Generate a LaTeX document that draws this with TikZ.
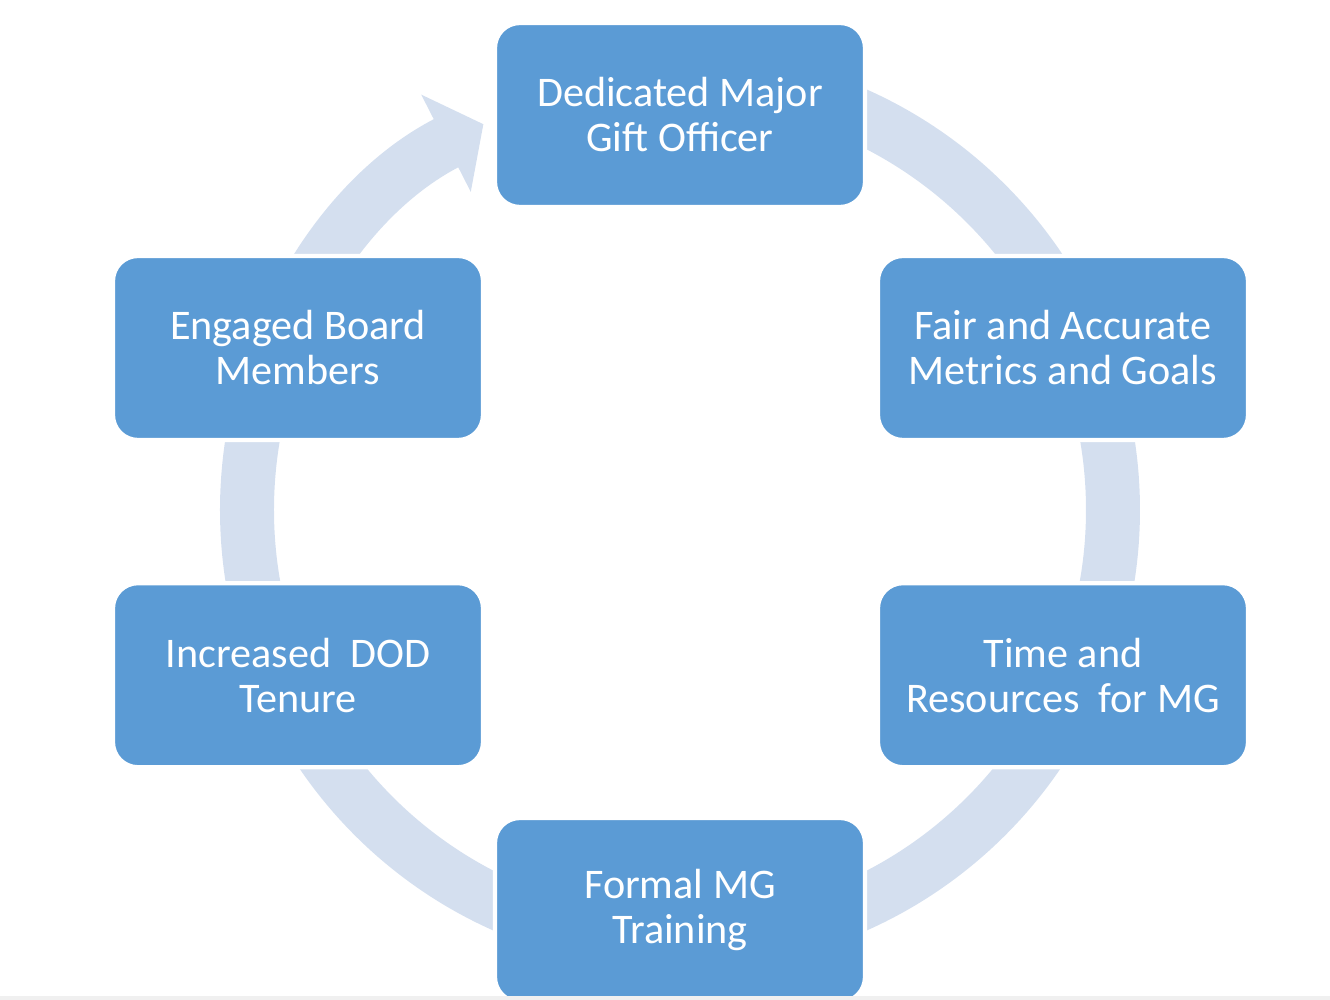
\documentclass[tikz,border=0pt]{standalone}
\usepackage{fontspec}
\setmainfont{Carlito}
\usepackage{tikz}
\usetikzlibrary{positioning,arrows.meta}

\definecolor{boxblue}{HTML}{5B9BD5}
\definecolor{ringblue}{HTML}{D4DFEF}

\tikzset{
  box/.style={rectangle, rounded corners=0.25cm, fill=boxblue, draw=white, line width=1.2pt,
    minimum width=3.7cm, minimum height=1.84cm, text=white, align=center,
    font=\fontsize{12pt}{12.8pt}\selectfont},
  ring/.style={draw=ringblue, line width=0.54cm},
}

\begin{document}
\begin{tikzpicture}[node distance=1.39cm]

    \useasboundingbox (-6.8,-4.9) rectangle (6.5,5.1);
    \coordinate (c) at (0,0);

%   the cycle behind the boxes
    \draw[ring, -{Triangle[length=4.2mm, width=10.7mm]}]
        (c) ++(90:4.33) arc[start angle=90, end angle=-243, radius=4.33];

    \node[box] (dmgo) at (0,3.95) {Dedicated Major\\Gift Officer};
    \node[box] (metrics) at (3.83,1.62) {Fair and Accurate\\Metrics and Goals};
    \node[box] (time) [below=of metrics] {Time and\\Resources\ \ for MG};
    \node[box] (training) at (0,-4.0) {Formal MG\\Training};
    \node[box] (board) at (-3.82,1.62) {Engaged Board\\Members};
    \node[box] (tenure) [below=of board] {Increased\ \ DOD\\Tenure};

%   screenshot edge
    \fill[gray!12] (-6.8,-4.9) rectangle (6.5,-4.86);

\end{tikzpicture}
\end{document}
